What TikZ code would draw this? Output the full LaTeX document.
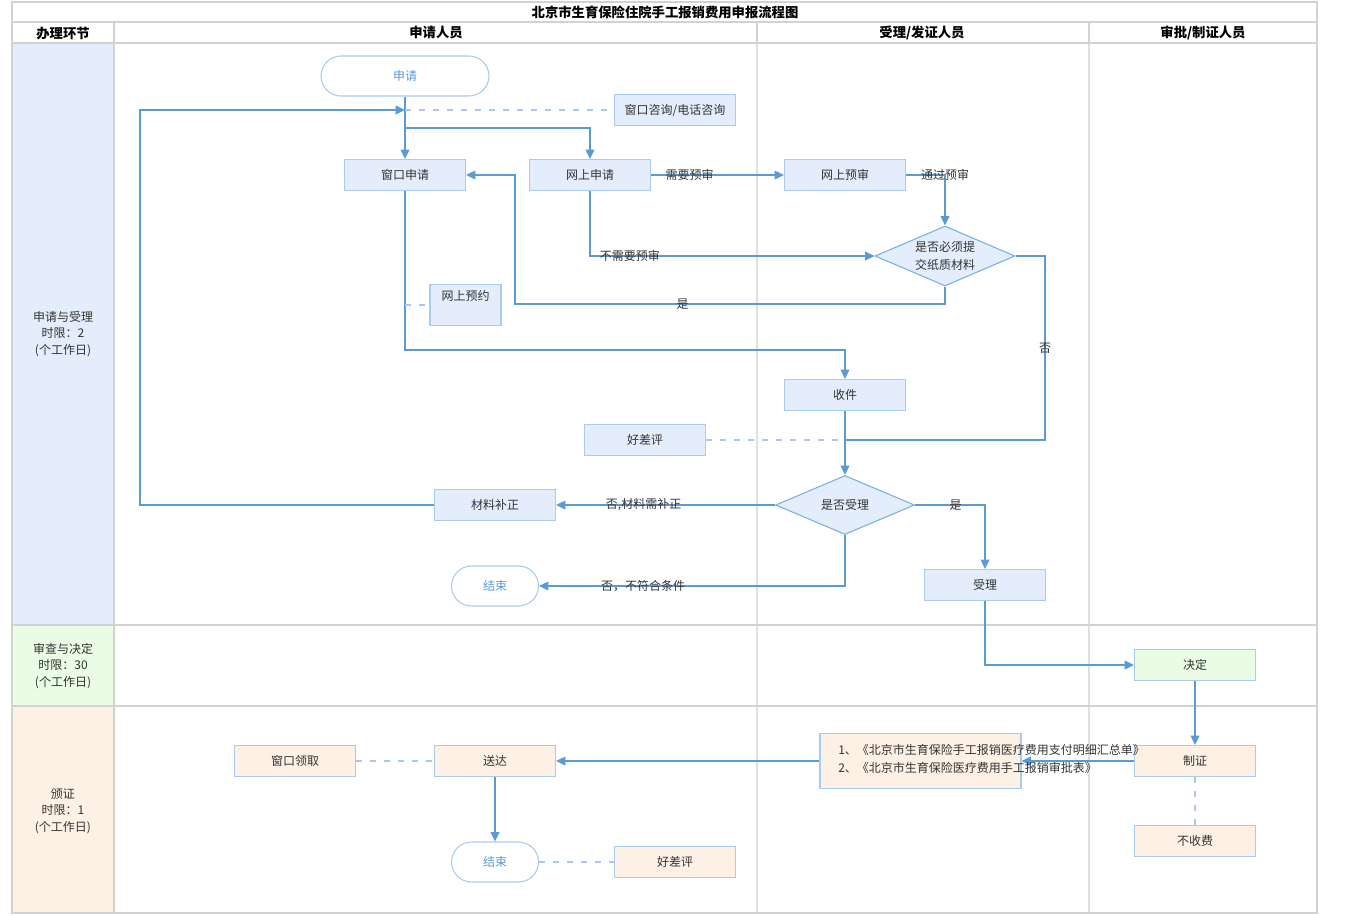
\documentclass[tikz,border=0pt]{standalone}
\usepackage{fontspec}
\setmainfont{Noto Sans CJK SC}
\usetikzlibrary{shapes.geometric,arrows.meta}
\definecolor{ln}{HTML}{5B9BD5}
\definecolor{dl}{HTML}{A9C8EA}
\definecolor{bf}{HTML}{E3EDFC}
\definecolor{bd}{HTML}{A9CBEE}
\definecolor{of}{HTML}{FDF1E6}
\definecolor{gf}{HTML}{EBFCE6}
\definecolor{grid}{HTML}{D2D2D2}
\definecolor{lgrid}{HTML}{E0E0E0}
\definecolor{tx}{HTML}{333333}
\tikzset{
  box/.style={draw=bd, fill=bf, line width=0.8pt, minimum width=90.75pt, minimum height=23.25pt, inner sep=0pt, text=tx},
  stad/.style={draw=bd, fill=white, line width=0.8pt, rounded corners=15pt, minimum height=30pt, inner sep=0pt, text=ln},
  dia/.style={diamond, draw=ln!80, fill=bf, line width=0.8pt, inner sep=0pt},
  arr/.style={draw=ln, line width=1.1pt, -{Triangle[length=7pt,width=6.5pt]}},
  lnn/.style={draw=ln, line width=1.1pt},
  dsh/.style={draw=dl, line width=1.1pt, dash pattern=on 4.5pt off 6pt},
  lab/.style={text=tx, inner sep=0pt},
  hdr/.style={text=black, font=\fontsize{10}{12}\selectfont\bfseries},
  phase/.style={text=tx, align=center, font=\fontsize{9}{12.5}\selectfont}
}
\begin{document}
\begin{tikzpicture}[x=0.75pt,y=-0.75pt,font=\fontsize{9}{12}\selectfont]
\useasboundingbox (0,0) rectangle (1350,915);
% phase backgrounds
\fill[bf] (13,43) rectangle (114,625);
\fill[gf] (13,625) rectangle (114,706);
\fill[of] (13,706) rectangle (114,913);
% grid
\draw[lgrid, line width=1.5pt] (757,43) -- (757,913);
\draw[lgrid, line width=1.5pt] (1089,43) -- (1089,913);
\draw[grid, line width=1.5pt] (757,22) -- (757,43);
\draw[grid, line width=1.5pt] (1089,22) -- (1089,43);
\draw[grid, line width=1.5pt] (12,22) -- (1317,22);
\draw[grid, line width=1.5pt] (12,43) -- (1317,43);
\draw[grid, line width=1.5pt] (114,22) -- (114,913);
\draw[grid, line width=1.5pt] (12,625) -- (1317,625);
\draw[grid, line width=1.5pt] (12,706) -- (1317,706);
\draw[grid, line width=1.5pt] (12,2) rectangle (1317,913);
% headers
\node[hdr] (title) at (665,12) {北京市生育保险住院手工报销费用申报流程图};
\node[hdr] (h0) at (63,33) {办理环节};
\node[hdr] (h1) at (436,33) {申请人员};
\node[hdr] (h2) at (922,33) {受理/发证人员};
\node[hdr] (h3) at (1203,33) {审批/制证人员};
\node[phase] (p1) at (63,334) {申请与受理\\时限：2\\(个工作日)};
\node[phase] (p2) at (63,666) {审查与决定\\时限：30\\(个工作日)};
\node[phase] (p3) at (63,811) {颁证\\时限：1\\(个工作日)};
% nodes
\node[stad, minimum width=126pt] (start) at (405,76) {申请};
\node[box] (wz) at (675,110) {窗口咨询/电话咨询};
\node[box] (cksq) at (405,175) {窗口申请};
\node[box] (wssq) at (590,175) {网上申请};
\node[box] (wsys) at (845,175) {网上预审};
\node[dia, minimum width=105pt, minimum height=45pt, label={[lab, align=center, font=\fontsize{9}{14}\selectfont]center:是否必须提\\交纸质材料}] (d1) at (945,256) {};
\node[box, minimum width=53.25pt, minimum height=30.75pt, label={[lab, anchor=north, yshift=-5pt]north:网上预约}] (wsyy) at (465.5,305) {};
\node[box] (sj) at (845,395) {收件};
\node[box] (hcp1) at (645,440) {好差评};
\node[dia, minimum width=104.25pt, minimum height=44.25pt, label={[lab]center:是否受理}] (d2) at (845,505) {};
\node[box] (clbz) at (495,505) {材料补正};
\node[stad, minimum width=65.25pt] (end1) at (495,586) {结束};
\node[box] (sl) at (985,585) {受理};
\node[box, fill=gf] (jd) at (1195,665) {决定};
\node[box, fill=of] (zz) at (1195,761) {制证};
\node[box, fill=of] (bsf) at (1195,841) {不收费};
\node[box, fill=of, minimum width=150.75pt, minimum height=41.25pt] (doc) at (920.5,761) {};
\node[box, fill=of] (sd) at (495,761) {送达};
\node[box, fill=of] (ckl) at (295,761) {窗口领取};
\node[stad, minimum width=65.25pt] (end2) at (495,862) {结束};
\node[box, fill=of] (hcp2) at (675,862) {好差评};
% coordinates
\coordinate (j1) at (405,110);
\coordinate (j2) at (405,128);
\coordinate (lp1) at (140,505);
\coordinate (lp2) at (140,110);
\coordinate (b1) at (945,304);
\coordinate (b2) at (515,304);
\coordinate (c1) at (405,350);
\coordinate (c2) at (405,305);
\coordinate (e1) at (1045,440);
\coordinate (e2) at (845,440);
% connectors
\draw[arr] (start.south) -- (cksq.north);
\draw[arr] (clbz.west) -- (lp1) -- (lp2) -- (j1);
\draw[dsh] (j1) -- (wz.west);
\draw[arr] (j2) -| (wssq.north);
\draw[arr] (wssq.east) -- node[lab, pos=0.29]{需要预审} (wsys.west);
\draw[arr] (wsys.east) -| node[lab, pos=0.5]{通过预审} (d1.north);
\draw[arr] (wssq.south) |- node[lab, pos=0.57]{不需要预审} (d1.west);
\draw[arr] (d1.south) -- (b1) -- node[lab, pos=0.61]{是} (b2) |- (cksq.east);
\draw[arr] (cksq.south) -- (c1) -| (sj.north);
\draw[dsh] (c2) -- (wsyy.west);
\draw[lnn] (d1.east) -| node[lab, pos=0.75]{否} (e1) -- (e2);
\draw[dsh] (hcp1.east) -- (e2);
\draw[arr] (sj.south) -- (d2.north);
\draw[arr] (d2.west) -- node[lab, pos=0.6]{否,材料需补正} (clbz.east);
\draw[arr] (d2.south) |- node[lab, pos=0.83]{否，不符合条件} (end1.east);
\draw[arr] (d2.east) -| node[lab, pos=0.29]{是} (sl.north);
\draw[arr] (sl.south) |- (jd.west);
\draw[arr] (jd.south) -- (zz.north);
\draw[arr] (zz.west) -- (doc.east);
\draw[arr] (doc.west) -- (sd.east);
\draw[dsh] (zz.south) -- (bsf.north);
\draw[dsh] (ckl.east) -- (sd.west);
\draw[arr] (sd.south) -- (end2.north);
\draw[dsh] (end2.east) -- (hcp2.west);
% document text
\node[lab, anchor=west] (doct1) at (838,750) {1、《北京市生育保险手工报销医疗费用支付明细汇总单》};
\node[lab, anchor=west] (doct2) at (838,768) {2、《北京市生育保险医疗费用手工报销审批表》};
\end{tikzpicture}
\end{document}
